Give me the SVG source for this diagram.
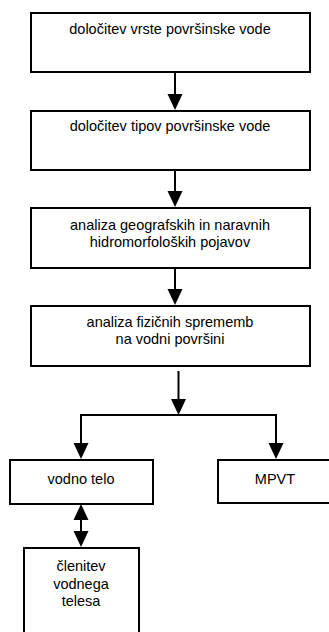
<svg xmlns="http://www.w3.org/2000/svg" width="329" height="632" viewBox="0 0 329 632">
<style>
.box{fill:#fff;stroke:#000;stroke-width:2}
.ln{fill:none;stroke:#000;stroke-width:2}
.hd{fill:#000;stroke:none}
text{font-family:"Liberation Sans",Arial,sans-serif;font-size:14.5px;fill:#000;text-anchor:middle}
</style>
<rect width="329" height="632" fill="#fff"/>
<g id="connectors">
<line class="ln" x1="175" y1="73" x2="175" y2="96"/>
<polygon class="hd" points="167.5,94 182.5,94 175,110"/>
<line class="ln" x1="175" y1="171" x2="175" y2="193"/>
<polygon class="hd" points="167.5,191 182.5,191 175,207"/>
<line class="ln" x1="175" y1="269" x2="175" y2="291"/>
<polygon class="hd" points="167.5,289 182.5,289 175,305"/>
<line class="ln" x1="178.5" y1="371" x2="178.5" y2="401"/>
<polygon class="hd" points="171,399 186,399 178.5,415"/>
<polyline class="ln" points="81,445 81,415 276,415 276,445"/>
<polygon class="hd" points="73.5,443 88.5,443 81,459"/>
<polygon class="hd" points="268.5,443 283.5,443 276,459"/>
<line class="ln" x1="81" y1="518" x2="81" y2="533"/>
<polygon class="hd" points="73.5,520 88.5,520 81,504"/>
<polygon class="hd" points="73.5,531 88.5,531 81,547"/>
</g>
<g id="n1"><rect class="box" x="31" y="13" width="279" height="59"/><text x="170" y="33.5">določitev vrste površinske vode</text></g>
<g id="n2"><rect class="box" x="31" y="111" width="279" height="59"/><text x="170" y="131">določitev tipov površinske vode</text></g>
<g id="n3"><rect class="box" x="31" y="208" width="279" height="60"/><text x="170" y="229.5">analiza geografskih in naravnih</text><text x="170" y="246.5">hidromorfoloških pojavov</text></g>
<g id="n4"><rect class="box" x="31" y="306" width="279" height="60"/><text x="170" y="327">analiza fizičnih sprememb</text><text x="170" y="344">na vodni površini</text></g>
<g id="n5"><rect class="box" x="10" y="460" width="143" height="44"/><text x="81" y="484">vodno telo</text></g>
<g id="n6"><rect class="box" x="218" y="460" width="116" height="43"/><text x="275" y="484">MPVT</text></g>
<g id="n7"><rect class="box" x="24" y="548" width="115" height="100"/><text x="81" y="571">členitev</text><text x="81" y="588.5">vodnega</text><text x="81" y="606">telesa</text></g>
</svg>
